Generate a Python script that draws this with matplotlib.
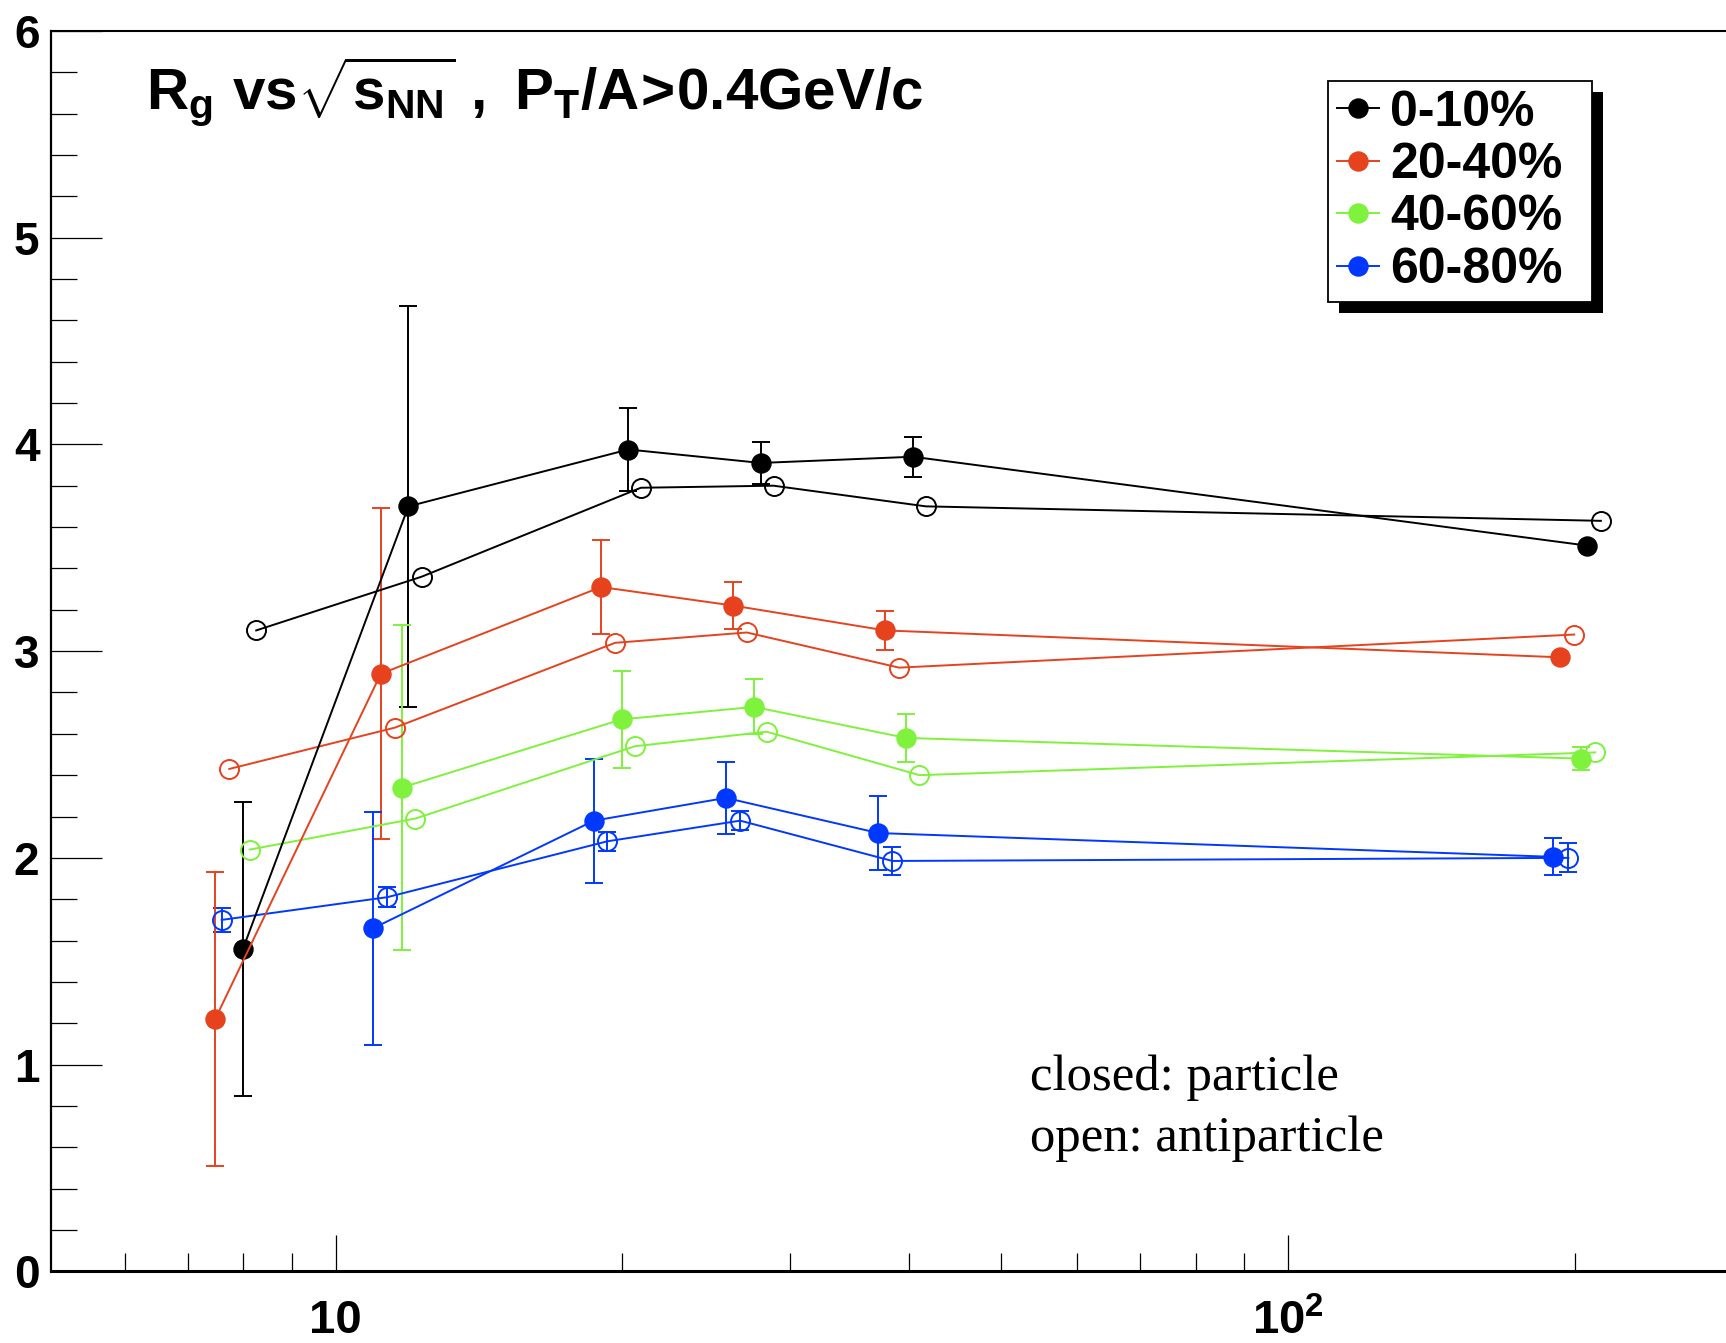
import numpy as np
import matplotlib
matplotlib.use('Agg')
import matplotlib.pyplot as plt
from matplotlib.lines import Line2D
from matplotlib.patches import Rectangle
from matplotlib.ticker import FixedLocator, FixedFormatter, NullFormatter

plt.rcParams['mathtext.fontset'] = 'custom'
plt.rcParams['mathtext.rm'] = 'Liberation Sans:bold'
plt.rcParams['mathtext.it'] = 'Liberation Sans:bold'
plt.rcParams['mathtext.bf'] = 'Liberation Sans:bold'
plt.rcParams['mathtext.sf'] = 'Liberation Sans:bold'
plt.rcParams['font.family'] = ['Liberation Sans', 'DejaVu Sans']

# ---------------- data ----------------
centrality = ['0-10%', '20-40%', '40-60%', '60-80%']
colors = ['#000000', '#e6421e', '#7ef23c', '#0038ff']

# closed markers: particle
x_part_0_10 = [7.99, 11.92, 20.29, 27.95, 40.37, 206.3]
y_part_0_10 = [1.56, 3.70, 3.975, 3.91, 3.94, 3.51]
e_part_0_10 = [0.71, 0.97, 0.20, 0.10, 0.097, 0.0]

x_part_20_40 = [7.47, 11.15, 18.99, 26.16, 37.76, 193.1]
y_part_20_40 = [1.22, 2.89, 3.31, 3.22, 3.10, 2.97]
e_part_20_40 = [0.71, 0.80, 0.225, 0.115, 0.095, 0.0]

x_part_40_60 = [11.73, 19.97, 27.50, 39.72, 203.0]
y_part_40_60 = [2.34, 2.67, 2.73, 2.58, 2.48]
e_part_40_60 = [0.785, 0.236, 0.133, 0.118, 0.055]

x_part_60_80 = [10.95, 18.67, 25.68, 37.14, 189.7]
y_part_60_80 = [1.66, 2.18, 2.29, 2.12, 2.005]
e_part_60_80 = [0.563, 0.30, 0.173, 0.18, 0.09]

# open markers: antiparticle
x_anti_0_10 = [8.25, 12.31, 20.91, 28.82, 41.66, 213.1]
y_anti_0_10 = [3.10, 3.36, 3.79, 3.80, 3.70, 3.63]
e_anti_0_10 = [0.0, 0.0, 0.0, 0.0, 0.0, 0.0]

x_anti_20_40 = [7.73, 11.54, 19.65, 27.02, 39.05, 199.8]
y_anti_20_40 = [2.43, 2.63, 3.04, 3.09, 2.92, 3.08]
e_anti_20_40 = [0.0, 0.0, 0.0, 0.0, 0.0, 0.0]

x_anti_40_60 = [8.12, 12.12, 20.62, 28.35, 41.02, 210.2]
y_anti_40_60 = [2.04, 2.19, 2.54, 2.61, 2.40, 2.51]
e_anti_40_60 = [0.0, 0.0, 0.0, 0.0, 0.0, 0.0]

x_anti_60_80 = [7.59, 11.33, 19.28, 26.59, 38.41, 197.0]
y_anti_60_80 = [1.70, 1.81, 2.08, 2.18, 1.985, 2.00]
e_anti_60_80 = [0.058, 0.05, 0.045, 0.045, 0.068, 0.07]

x_major = [10, 100]
x_major_labels = ['10', r'$10^{2}$']
x_minor = [6, 7, 8, 9, 20, 30, 40, 50, 60, 70, 80, 90, 200, 300]
y_major = [0, 1, 2, 3, 4, 5, 6]
y_minor = [v / 5 for v in range(0, 31)]

particle = [(x_part_0_10, y_part_0_10, e_part_0_10),
            (x_part_20_40, y_part_20_40, e_part_20_40),
            (x_part_40_60, y_part_40_60, e_part_40_60),
            (x_part_60_80, y_part_60_80, e_part_60_80)]
antiparticle = [(x_anti_0_10, y_anti_0_10, e_anti_0_10),
                (x_anti_20_40, y_anti_20_40, e_anti_20_40),
                (x_anti_40_60, y_anti_40_60, e_anti_40_60),
                (x_anti_60_80, y_anti_60_80, e_anti_60_80)]

# ---------------- figure ----------------
W, H = 1726, 1343
fig = plt.figure(figsize=(W / 100, H / 100), dpi=100)
ax_left = 50.6 / W
ax_bottom = 1 - 1271.4 / H
ax_top = 1 - 30.8 / H
ax = fig.add_axes([ax_left, ax_bottom, 1.05 - ax_left, ax_top - ax_bottom])

ax.set_xscale('log')
ax.set_xlim(5.018, 355.3)
ax.set_ylim(0, 6)

ms = 13.7
lw = 1.4


def draw_series(xs, ys, es, c, filled):
    ax.plot(xs, ys, '-o', color=c, ms=ms, mfc=(c if filled else 'none'), mec=c,
            mew=(1.0 if filled else 1.4), lw=lw, zorder=3)
    xe = [x for x, e in zip(xs, es) if e > 0]
    ye = [y for y, e in zip(ys, es) if e > 0]
    ee = [e for e in es if e > 0]
    if xe:
        ax.errorbar(xe, ye, yerr=ee, fmt='none', ecolor=c, elinewidth=lw,
                    capsize=6.5, capthick=lw, zorder=2.5)


for (xs, ys, es), c in zip(antiparticle, colors):
    draw_series(xs, ys, es, c, False)
for (xs, ys, es), c in zip(particle, colors):
    draw_series(xs, ys, es, c, True)

# axes styling (ROOT-like)
ax.spines['right'].set_visible(False)
ax.spines['left'].set_linewidth(1.6)
ax.spines['top'].set_linewidth(1.5)
ax.spines['bottom'].set_linewidth(2.2)

ax.xaxis.set_major_locator(FixedLocator(x_major))
ax.xaxis.set_major_formatter(FixedFormatter(x_major_labels))
ax.xaxis.set_minor_locator(FixedLocator(x_minor))
ax.xaxis.set_minor_formatter(NullFormatter())
ax.yaxis.set_major_locator(FixedLocator(y_major))
ax.yaxis.set_minor_locator(FixedLocator(y_minor))

ax.tick_params(axis='x', which='major', direction='in', length=26, width=0.9,
               pad=20, labelsize=34, top=False)
ax.tick_params(axis='x', which='minor', direction='in', length=13, width=0.9, top=False)
ax.tick_params(axis='y', which='major', direction='in', length=36.7, width=0.9,
               pad=8, labelsize=33, right=False)
ax.tick_params(axis='y', which='minor', direction='in', length=18.7, width=0.9, right=False)
for lab in ax.get_xticklabels() + ax.get_yticklabels():
    lab.set_fontweight('bold')
    lab.set_family('Liberation Sans')

# title
fig.text(146.4 / W, 1 - 110 / H,
         r'$\mathrm{R_{g}\ vs}\sqrt{\mathrm{s_{NN}}}\mathrm{\ ,\ P_{T}/A\!>\!0.4GeV/c}$',
         fontsize=42, va='baseline', ha='left')

# annotation
fig.text(1030.4 / W, 1 - 1090 / H, 'closed: particle', family='Liberation Serif',
         fontsize=36.5, va='baseline', ha='left')
fig.text(1030.4 / W, 1 - 1151 / H, 'open: antiparticle', family='Liberation Serif',
         fontsize=36.5, va='baseline', ha='left')

# legend
handles = [Line2D([], [], color=c, marker='o', ms=ms, mfc=c, mec=c, lw=lw) for c in colors]
leg = fig.legend(handles, centrality, loc='upper left',
                 bbox_to_anchor=(1328 / W, 1 - 81 / H, 264 / W, 0.0), mode='expand',
                 prop={'family': 'Liberation Sans', 'weight': 'bold', 'size': 36},
                 frameon=True, fancybox=False, framealpha=1, edgecolor='black',
                 borderpad=0.17, handlelength=0.85, handletextpad=0.22,
                 labelspacing=0.13, borderaxespad=0)
leg.get_frame().set_linewidth(1.3)
leg.set_zorder(5)

fig.canvas.draw()
bb = leg.get_window_extent()
inv = fig.transFigure.inverted()
(x0, y0), (x1, y1) = inv.transform([(bb.x0 + 11, bb.y0 - 11), (bb.x1 + 11, bb.y1 - 11)])
shadow = Rectangle((x0, y0), x1 - x0, y1 - y0, transform=fig.transFigure,
                   facecolor='black', edgecolor='none', zorder=4.9)
fig.add_artist(shadow)

fig.savefig('out.png', dpi=100)
